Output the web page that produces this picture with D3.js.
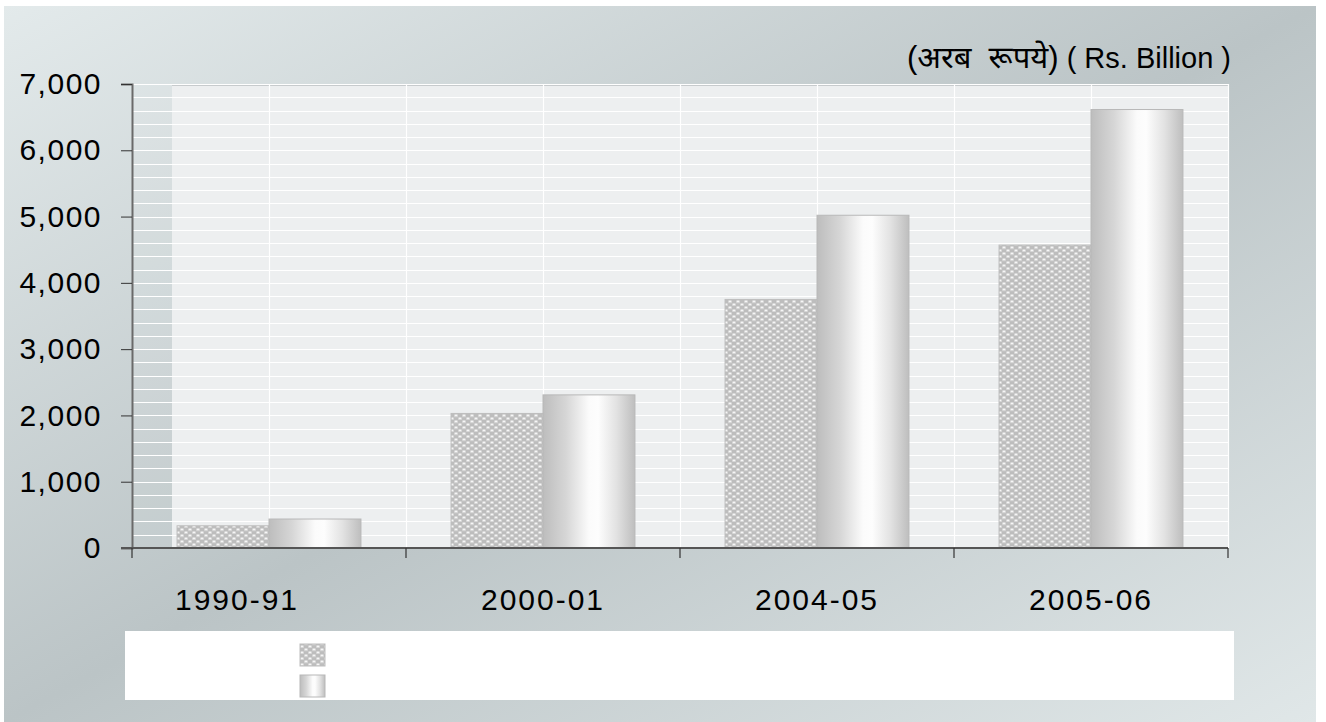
<!DOCTYPE html>
<html>
<head>
<meta charset="utf-8">
<script src="https://cdn.jsdelivr.net/npm/d3@7"></script>
<style>
  html, body { margin: 0; padding: 0; background: #ffffff; }
  svg { display: block; }
  text { font-family: "Liberation Sans", Arial, "Noto Sans", sans-serif; fill: #000; }
</style>
</head>
<body>
<svg id="chart" width="1326" height="722"></svg>
<script>
// ---- data ----
const categories = ["1990-91", "2000-01", "2004-05", "2005-06"];
const seriesNames = ["Series A", "Series B"];
const seriesA = [335, 2030, 3750, 4570];
const seriesB = [437, 2310, 5020, 6615];
const yTicks = [0, 1000, 2000, 3000, 4000, 5000, 6000, 7000];
const unitLabelHindi = "(अरब  रूपये)";
const unitLabelEnglish = " ( Rs. Billion )";

const rows = categories.map((c, i) => ({ cat: c, values: [seriesA[i], seriesB[i]] }));

const svg = d3.select("#chart");
const defs = svg.append("defs");

// background gradient (light - dark - light along diagonal)
const bg = defs.append("linearGradient").attr("id", "bgGrad")
  .attr("x1", 0).attr("y1", 0).attr("x2", 1).attr("y2", 1);
bg.append("stop").attr("offset", 0).attr("stop-color", "#e3eaeb");
bg.append("stop").attr("offset", 0.5).attr("stop-color", "#bbc4c6");
bg.append("stop").attr("offset", 1).attr("stop-color", "#e0e7e8");

// cylinder gradient
const cyl = defs.append("linearGradient").attr("id", "cylGrad")
  .attr("x1", 0).attr("y1", 0).attr("x2", 1).attr("y2", 0);
[[0, "#bdbdbd"], [0.25, "#d6d6d6"], [0.5, "#fbfbfb"], [0.6, "#fdfdfd"], [0.8, "#e2e2e2"], [1, "#bebebe"]]
  .forEach(([o, c]) => cyl.append("stop").attr("offset", o).attr("stop-color", c));

// dotted pattern
const pat = defs.append("pattern").attr("id", "dotPat")
  .attr("patternUnits", "userSpaceOnUse").attr("width", 8).attr("height", 6);
pat.append("rect").attr("width", 8).attr("height", 6).attr("fill", "#bdbdbd");
pat.append("rect").attr("x", 0.5).attr("y", 0.5).attr("width", 3).attr("height", 2).attr("fill", "#f6f6f6");
pat.append("rect").attr("x", 4.5).attr("y", 3.5).attr("width", 3).attr("height", 2).attr("fill", "#f6f6f6");
pat.append("rect").attr("x", 0).attr("y", 2.5).attr("width", 4).attr("height", 0.7).attr("fill", "#d8d8d8");
pat.append("rect").attr("x", 4).attr("y", 5.5).attr("width", 4).attr("height", 0.5).attr("fill", "#d8d8d8");

// ---- layout ----
const plot = { left: 132, right: 1228, top: 84, bottom: 548 };
const wallLeft = 172;

svg.append("rect").attr("x", 4).attr("y", 6).attr("width", 1312).attr("height", 716)
  .attr("fill", "url(#bgGrad)");

const x = d3.scaleBand().domain(categories).range([plot.left, plot.right]).padding(0);
const x1 = d3.scaleBand().domain(seriesNames).range([0, x.bandwidth()])
  .paddingInner(0).paddingOuter(0.49);
const y = d3.scaleLinear().domain([0, 7000]).range([plot.bottom, plot.top]);

// plot wall
svg.append("rect").attr("x", wallLeft).attr("y", plot.top + 2)
  .attr("width", plot.right - wallLeft).attr("height", plot.bottom - plot.top - 2)
  .attr("fill", "#edeff0");
svg.append("rect").attr("x", wallLeft).attr("y", plot.top)
  .attr("width", plot.right - wallLeft).attr("height", 2).attr("fill", "#c7cbcd");
svg.append("rect").attr("x", plot.left).attr("y", plot.top)
  .attr("width", wallLeft - plot.left).attr("height", plot.bottom - plot.top)
  .attr("fill", "#ffffff").attr("opacity", 0.08);

// gridlines (every 200)
const gridVals = d3.range(200, 7001, 200);
svg.append("g").selectAll("line").data(gridVals).join("line")
  .attr("x1", plot.left).attr("x2", plot.right)
  .attr("y1", d => Math.round(y(d)) + 0.5).attr("y2", d => Math.round(y(d)) + 0.5)
  .attr("stroke", "#ffffff").attr("stroke-width", 1.2);
const vGrid = [];
categories.forEach((c, i) => {
  vGrid.push(x(c) + x.bandwidth() / 2);
  if (i > 0) vGrid.push(x(c));
});
vGrid.push(plot.right);
svg.append("g").selectAll("line").data(vGrid).join("line")
  .attr("x1", d => Math.round(d) + 0.5).attr("x2", d => Math.round(d) + 0.5)
  .attr("y1", plot.top).attr("y2", plot.bottom)
  .attr("stroke", "#ffffff").attr("stroke-width", 1.2);

// bars
const fills = ["url(#dotPat)", "url(#cylGrad)"];
const strokes = ["#bdbdbd", "#b8b8b8"];
const groups = svg.append("g").selectAll("g").data(rows).join("g")
  .attr("transform", d => `translate(${x(d.cat)},0)`);
groups.selectAll("rect").data(d => d.values.map((v, i) => ({ v, i }))).join("rect")
  .attr("x", d => x1(seriesNames[d.i]))
  .attr("width", x1.bandwidth())
  .attr("y", d => y(d.v))
  .attr("height", d => y(0) - y(d.v))
  .attr("fill", d => fills[d.i])
  .attr("stroke", d => strokes[d.i]).attr("stroke-width", 1);

// axes
const yAxis = d3.axisLeft(y).tickValues(yTicks).tickSize(11).tickPadding(19)
  .tickFormat(d3.format(","));
const gy = svg.append("g").attr("transform", `translate(${plot.left},0)`).call(yAxis);
gy.select(".domain").attr("stroke", "#6a6a6a").attr("stroke-width", 2);
gy.selectAll(".tick line").attr("stroke", "#333");
gy.selectAll(".tick text").attr("font-size", 30).attr("letter-spacing", 1.5)
  .style("font-family", "'Liberation Sans', Arial, sans-serif").attr("fill", "#000");

const xAxis = d3.axisBottom(x).tickSize(0).tickPadding(41);
const gx = svg.append("g").attr("transform", `translate(0,${plot.bottom})`).call(xAxis);
gx.select(".domain").remove();
gx.selectAll(".tick text").attr("font-size", 30).attr("letter-spacing", 2)
  .attr("dx", (d, i) => i === 0 ? -32 : 0)
  .style("font-family", "'Liberation Sans', Arial, sans-serif").attr("fill", "#000");
// baseline and category boundary ticks
svg.append("line").attr("x1", plot.left - 11).attr("x2", plot.right)
  .attr("y1", plot.bottom).attr("y2", plot.bottom)
  .attr("stroke", "#555").attr("stroke-width", 2);
const bounds = categories.map(c => x(c)).concat([plot.right]);
svg.append("g").selectAll("line").data(bounds).join("line")
  .attr("x1", d => d).attr("x2", d => d)
  .attr("y1", plot.bottom).attr("y2", plot.bottom + 10)
  .attr("stroke", "#333").attr("stroke-width", 1.2);

// unit label
const ul = svg.append("text").attr("x", 1231).attr("y", 68).attr("text-anchor", "end")
  .attr("font-size", 29).style("white-space", "pre");
ul.append("tspan").attr("font-size", 31).text(unitLabelHindi);
ul.append("tspan").text(unitLabelEnglish);

// legend
svg.append("rect").attr("x", 125).attr("y", 631).attr("width", 1109).attr("height", 69)
  .attr("fill", "#ffffff");
svg.append("g").selectAll("rect").data(seriesNames).join("rect")
  .attr("x", 300).attr("y", (d, i) => 644 + i * 31)
  .attr("width", 25).attr("height", 22)
  .attr("fill", (d, i) => fills[i])
  .attr("stroke", (d, i) => strokes[i]).attr("stroke-width", 1);
</script>
</body>
</html>
